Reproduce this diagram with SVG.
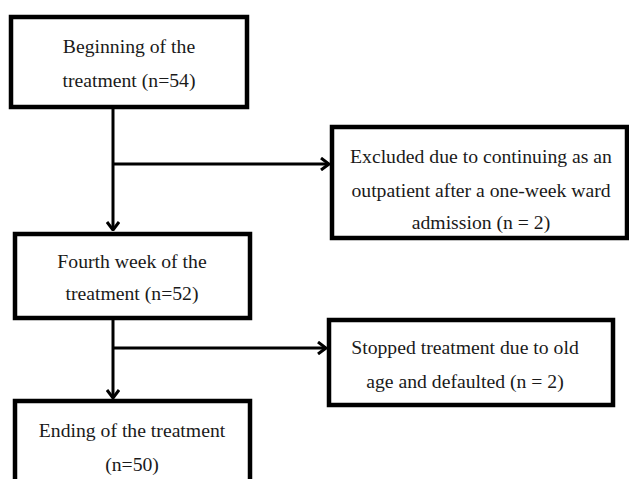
<svg xmlns="http://www.w3.org/2000/svg" width="629" height="479" viewBox="0 0 629 479">
<defs>
<style>
.box{fill:#fff;stroke:#000;stroke-width:4.5}
.t{font-family:'Liberation Serif','Times New Roman',serif;font-size:19.7px;fill:#1a1a1a;text-anchor:middle}
.c{fill:none;stroke:#000;stroke-width:3}
</style>
<marker id="ah" viewBox="0 0 10 14" refX="9" refY="7" markerWidth="10" markerHeight="14" markerUnits="userSpaceOnUse" orient="auto">
<path d="M1,1 L9,7 L1,13" fill="none" stroke="#000" stroke-width="3"/>
</marker>
</defs>
<rect width="629" height="479" fill="#fff"/>
<g id="connectors">
<line class="c" x1="113" y1="108" x2="113" y2="230" marker-end="url(#ah)"/>
<line class="c" x1="113" y1="164" x2="329" y2="164" marker-end="url(#ah)"/>
<line class="c" x1="113" y1="318" x2="113" y2="398" marker-end="url(#ah)"/>
<line class="c" x1="113" y1="348" x2="326" y2="348" marker-end="url(#ah)"/>
</g>
<g id="n1">
<rect class="box" x="11" y="17" width="236" height="90"/>
<text class="t" x="129" y="53">Beginning of the</text>
<text class="t" x="129" y="87">treatment (n=54)</text>
</g>
<g id="n2">
<rect class="box" x="332" y="127" width="295" height="111"/>
<text class="t" x="481" y="163">Excluded due to continuing as an</text>
<text class="t" x="481" y="197">outpatient after a one-week ward</text>
<text class="t" x="481" y="229">admission (n = 2)</text>
</g>
<g id="n3">
<rect class="box" x="15" y="234" width="235" height="84"/>
<text class="t" x="132" y="268">Fourth week of the</text>
<text class="t" x="132" y="300">treatment (n=52)</text>
</g>
<g id="n4">
<rect class="box" x="329" y="320" width="284" height="85"/>
<text class="t" x="465" y="354">Stopped treatment due to old</text>
<text class="t" x="465" y="388">age and defaulted (n = 2)</text>
</g>
<g id="n5">
<rect class="box" x="15" y="401" width="235" height="100"/>
<text class="t" x="132" y="437">Ending of the treatment</text>
<text class="t" x="132" y="471">(n=50)</text>
</g>
</svg>
